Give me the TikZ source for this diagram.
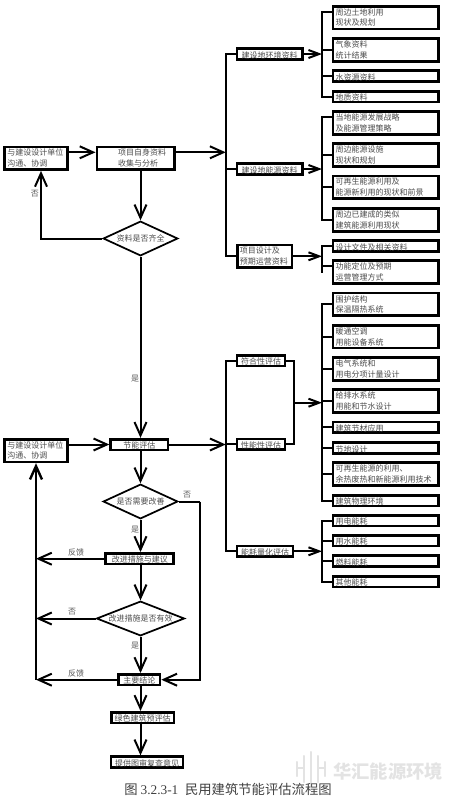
\documentclass[tikz,border=0pt]{standalone}
\usepackage{fontspec}
\setmainfont{Noto Sans CJK SC}
\newfontfamily\serifnum{Liberation Serif}
\usetikzlibrary{arrows.meta,shapes.geometric}
\definecolor{markgray}{gray}{0.89}
\tikzset{
  bx/.style={draw,line width=2pt,fill=white,inner sep=0pt,text=black!70,font=\fontsize{6}{8}\selectfont},
  tallbox/.style={bx,text width=75pt,inner xsep=2pt,minimum height=17pt,align=left},
  lowbox/.style={bx,text width=75pt,inner xsep=2pt,minimum height=8pt,text height=6.2pt,text depth=0.2pt,align=left},
  midbox/.style={bx,minimum height=8pt,text height=6.2pt,text depth=0.2pt,align=center},
  twobox/.style={bx,minimum height=17pt,align=left},
  choice/.style={diamond,draw,line width=1.3pt,inner sep=0pt,text=black!70,font=\fontsize{6}{8}\selectfont},
  tag/.style={inner sep=0pt,text=black!65,font=\fontsize{6}{8}\selectfont},
  link/.style={line width=1.5pt},
  flow/.style={link,-{Straight Barb[length=10pt,width=9pt]}},
  feed/.style={link,-{Straight Barb[length=8pt,width=6pt]}},
  logo/.style={markgray,line width=1.6pt,line cap=round}
}
\begin{document}
\begin{tikzpicture}[x=0.75pt,y=-0.75pt]
  \useasboundingbox (0,0) rectangle (454,800);

  % environment data
  \node[tallbox] (envA) at (385.5,17.5) {周边土地利用\\现状及规划};
  \node[tallbox] (envB) at (385.5,50) {气象资料\\统计结果};
  \node[lowbox] (envC) at (385.5,76) {水资源资料};
  \node[lowbox] (envD) at (385.5,96.5) {地质资料};

  % energy data
  \node[tallbox] (powA) at (385.5,123) {当地能源发展战略\\及能源管理策略};
  \node[tallbox] (powB) at (385.5,155) {周边能源设施\\现状和规划};
  \node[tallbox] (powC) at (385.5,187.3) {可再生能源利用及\\能源新利用的现状和前景};
  \node[tallbox] (powD) at (385.5,220) {周边已建成的类似\\建筑能源利用现状};

  % design data
  \node[lowbox] (desA) at (385.5,246) {设计文件及相关资料};
  \node[tallbox] (desB) at (385.5,272) {功能定位及预期\\运营管理方式};

  % evaluated systems
  \node[tallbox] (sysA) at (385.5,304.3) {围护结构\\保温隔热系统};
  \node[tallbox] (sysB) at (385.5,336.7) {暖通空调\\用能设备系统};
  \node[tallbox] (sysC) at (385.5,369) {电气系统和\\用电分项计量设计};
  \node[tallbox] (sysD) at (385.5,401) {给排水系统\\用能和节水设计};
  \node[lowbox] (sysE) at (385.5,427.3) {建筑节材应用};
  \node[lowbox] (sysF) at (385.5,448) {节地设计};
  \node[tallbox] (sysG) at (385.5,474) {可再生能源的利用、\\余热废热和新能源利用技术};
  \node[lowbox] (sysH) at (385.5,500.5) {建筑物理环境};

  % consumption
  \node[lowbox] (useA) at (385.5,520.8) {用电能耗};
  \node[lowbox] (useB) at (385.5,540.7) {用水能耗};
  \node[lowbox] (useC) at (385.5,561) {燃料能耗};
  \node[lowbox] (useD) at (385.5,581.5) {其他能耗};

  % middle column
  \node[midbox,minimum width=49pt] (env) at (269.5,54) {建设地环境资料};
  \node[midbox,minimum width=49pt] (pow) at (269.5,169) {建设地能源资料};
  \node[twobox,minimum width=41pt,text width=37pt,inner xsep=2pt] (des) at (264.5,256.3) {项目设计及\\预期运营资料};
  \node[midbox,minimum width=36pt] (comply) at (261,360.5) {符合性评估};
  \node[midbox,minimum width=36pt] (perf) at (261,444.3) {性能性评估};
  \node[midbox,minimum width=42pt] (quant) at (265,551.3) {能耗量化评估};

  % left column
  \node[twobox,minimum width=47pt,text width=43pt,inner xsep=2pt] (partyA) at (36,158.2) {与建设设计单位\\沟通、协调};
  \node[twobox,minimum width=47pt,text width=43pt,inner xsep=2pt] (partyB) at (36,450.5) {与建设设计单位\\沟通、协调};
  \node[twobox,minimum width=58pt,text width=58pt] (collect) at (135.5,158.2) {\hspace*{16pt}项目自身资料\\\hspace*{16pt}收集与分析};
  \node[choice,minimum width=56pt,minimum height=26pt,aspect=2.16] (check) at (140.5,238.5) {资料是否齐全};
  \node[midbox,minimum width=43pt] (assess) at (139.3,444.5) {节能评估};
  \node[choice,minimum width=56pt,minimum height=26pt,aspect=2.16] (need) at (140.5,501.5) {是否需要改善};
  \node[midbox,minimum width=51pt] (improve) at (139.8,558.7) {改进措施与建议};
  \node[choice,minimum width=66pt,minimum height=26pt,aspect=2.5] (works) at (140.5,618.5) {改进措施是否有效};
  \node[midbox,minimum width=31pt] (concl) at (139.3,679.7) {主要结论};
  \node[midbox,minimum width=47pt] (green) at (142.6,717.6) {绿色建筑预评估};
  \node[midbox,minimum width=54pt] (review) at (147.1,762) {提供图审复查意见};

  % free ends
  \coordinate (mainA) at (225.7,152.3);
  \coordinate (mainB) at (225.7,444.5);
  \coordinate (spine) at (322,0);
  \coordinate (merge) at (294,402.7);
  \coordinate (backA) at (41,238.5);
  \coordinate (backB) at (36,679.7);
  \coordinate (skip) at (199.7,501.5);

  % upper flow
  \draw[flow] (partyA.east |- mainA) -- (collect.west |- mainA);
  \draw[flow] (collect.east |- mainA) -- (mainA);
  \draw[flow] (check.north |- collect.south) -- (check.north);
  \draw[flow] (check.west) -- (backA) -- (backA |- partyA.south);
  \draw[flow] (check.south) -- (check.south |- assess.north);

  % lower flow
  \draw[flow] (partyB.east |- assess.west) -- (assess.west);
  \draw[flow] (assess.east) -- (mainB);
  \draw[flow] (need.north |- assess.south) -- (need.north);
  \draw[flow] (need.south) -- (need.south |- improve.north);
  \draw[flow] (works.north |- improve.south) -- (works.north);
  \draw[flow] (works.south) -- (works.south |- concl.north);
  \draw[flow] (works.south |- concl.south) -- (works.south |- green.north);
  \draw[flow] (works.south |- green.south) -- (works.south |- review.north);
  \draw[link] (need.east) -- (skip);
  \draw[flow] (skip) -- (skip |- concl.east) -- (concl.east);

  % feedback
  \draw[flow,line width=1.8pt] (backB) -- (partyB.south);
  \draw[flow] (improve.west) -- (backB |- improve.west);
  \draw[flow] (works.west) -- (backB |- works.west);
  \draw[flow] (concl.west) -- (backB);

  % main spines
  \draw[link,line cap=rect] (env.west) -- (mainA |- env.west) -- (mainA |- des.west) -- (des.west);
  \draw[link] (pow.west) -- (mainA |- pow.west);
  \draw[link,line cap=rect] (comply.west) -- (mainB |- comply.west) -- (mainB |- quant.west) -- (quant.west);
  \draw[link] (perf.west) -- (mainB |- perf.west);

  % merge of the two evaluations
  \draw[link] (comply.east) -- (merge |- comply.east) -- (merge |- perf.east) -- (perf.east);

  % side spines
  \draw[link,line cap=rect] (spine |- envA.west) ++(0,-5.8) -- (spine |- envD.west);
  \draw[link,line cap=rect] (spine |- powA.west) ++(0,-6.3) -- (spine |- powD.west);
  \draw[link,line cap=rect] (spine |- desA.west) -- (spine |- desB.west) ++(0,-6);
  \draw[link,line cap=rect] (spine |- sysA.west) -- (spine |- sysH.west);
  \draw[link,line cap=rect] (spine |- useA.west) -- (spine |- useD.west);
  \foreach \n in {envB,envC,envD,powB,powC,powD,desA,sysA,sysB,sysC,sysD,sysE,sysF,sysG,sysH,useA,useB,useC,useD}
    \draw[link] (spine |- \n.west) -- (\n.west);
  \draw[link] ([yshift=4.35pt]envA.west) -- ([yshift=4.35pt]envA.west -| spine);
  \draw[link] ([yshift=4.7pt]powA.west) -- ([yshift=4.7pt]powA.west -| spine);
  \draw[link] ([yshift=4.5pt]desB.west) -- ([yshift=4.5pt]desB.west -| spine);

  % into the side spines
  \draw[feed] (env.east) -- (spine |- env.east);
  \draw[feed] (pow.east) -- (spine |- pow.east);
  \draw[feed] (des.east) -- (spine |- des.east);
  \draw[feed] (merge) -- (spine |- merge);
  \draw[feed] (quant.east) -- (spine |- quant.east);

  % labels
  \node[tag] (noA) at (35,194) {否};
  \node[tag] (yesA) at (135,379) {是};
  \node[tag] (noB) at (187,495) {否};
  \node[tag] (yesB) at (135,530) {是};
  \node[tag] (backC) at (76,552) {反馈};
  \node[tag] (noC) at (72,612) {否};
  \node[tag] (yesC) at (135,646) {是};
  \node[tag] (backD) at (76,673) {反馈};

  % watermark
  \draw[logo] (297,762) -- (297,776) (304,756) -- (304,782) (311,752) -- (311,786) (318,756) -- (318,782) (325,762) -- (325,776);
  \draw[logo] (297,768) -- (304,768) (318,768) -- (325,768);
  \node[inner sep=0pt,text=markgray,font=\fontsize{13.7}{14}\selectfont\bfseries] (mark) at (388,771) {华汇能源环境};

  % caption
  \node[inner sep=0pt,text=black!75,font=\fontsize{10}{12}\selectfont] (title) at (228,789) {图 {\serifnum 3.2.3-1}\hspace{5pt}民用建筑节能评估流程图};
\end{tikzpicture}
\end{document}
